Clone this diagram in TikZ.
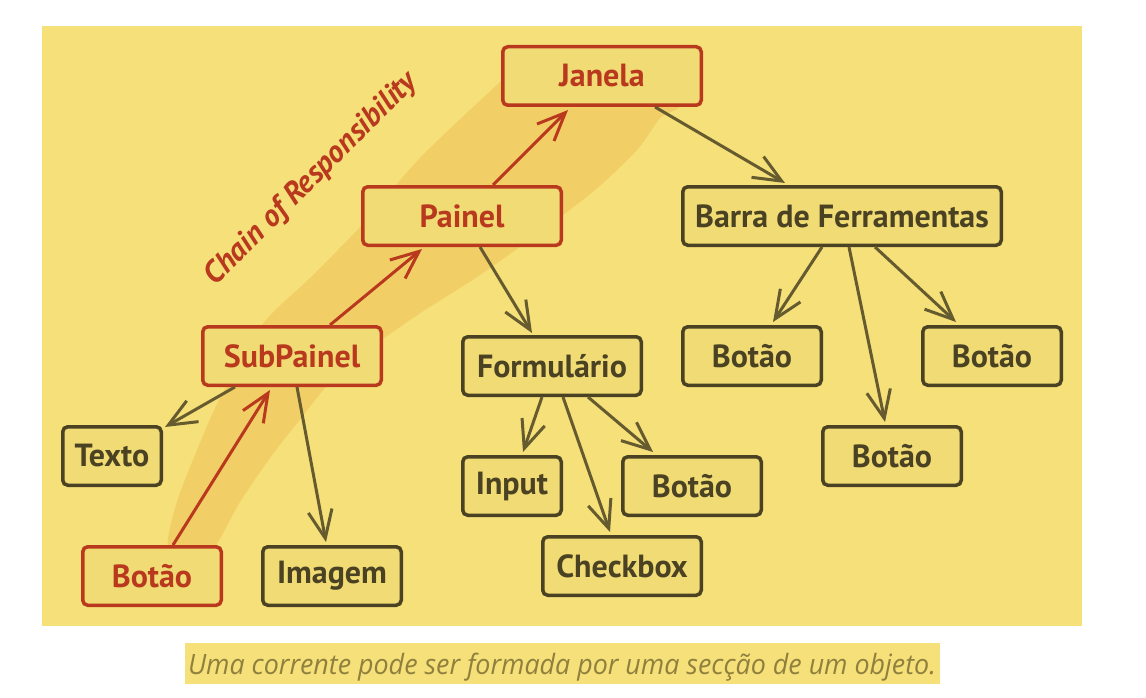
\documentclass[tikz,border=0pt]{standalone}
\usepackage{fontspec}
\setmainfont{PT Sans}
\newfontfamily\capfont{Open Sans}
\usetikzlibrary{arrows.meta,calc}
\definecolor{bg}{HTML}{F6E07A}
\definecolor{nodefill}{HTML}{F0DB74}
\definecolor{band}{HTML}{F2CE66}
\definecolor{redc}{HTML}{B8391E}
\definecolor{darkc}{HTML}{4A4222}
\definecolor{arrc}{HTML}{655B2F}
\definecolor{capc}{HTML}{8F803D}
\tikzset{
  box/.style={draw=darkc, text=darkc, fill=nodefill, line width=3.5pt, rounded corners=5pt,
    minimum height=58.5pt, inner sep=0pt, font=\fontsize{32}{36}\selectfont\bfseries},
  redbox/.style={box, draw=redc, text=redc},
  arr/.style={draw=arrc, line width=3pt, -{Straight Barb[length=28pt,width=24pt]}},
  redarr/.style={arr, draw=redc},
}
\begin{document}
\begin{tikzpicture}[x=1pt,y=-1pt]
\useasboundingbox (0,0) rectangle (1146,698);
\fill[bg] (42,26) rectangle (1082,626);
\fill[band] plot[smooth cycle] coordinates {
  (168,548) (176,505) (195,455) (220,398) (262,325) (310,278) (362,225) (420,158) (500,82) (530,55)
  (600,50) (680,100) (660,118) (637,150) (595,190) (540,232) (480,275) (410,320) (340,372)
  (298,422) (270,458) (240,502) (214,548) (190,565)};
\node[rotate=45, anchor=base, text=redc, font=\fontsize{31}{36}\selectfont\bfseries\itshape] (chain) at (317,185) {Chain of Responsibility};
% nodes
\node[redbox, minimum width=198.5pt] (janela) at (602,76) {Janela};
\node[redbox, minimum width=198.5pt] (painel) at (462,216) {Painel};
\node[redbox, minimum width=178.5pt] (sub) at (292,356) {SubPainel};
\node[box, minimum width=98.5pt] (texto) at (112,456) {Texto};
\node[redbox, minimum width=138.5pt] (bred) at (152,576) {Botão};
\node[box, minimum width=138.5pt] (imagem) at (332,576) {Imagem};
\node[box, minimum width=178.5pt] (form) at (552,366) {Formulário};
\node[box, minimum width=98.5pt] (input) at (512,486) {Input};
\node[box, minimum width=138.5pt] (bform) at (692,486) {Botão};
\node[box, minimum width=158.5pt] (check) at (622,566) {Checkbox};
\node[box, minimum width=318.5pt] (barra) at (842,216) {Barra de Ferramentas};
\node[box, minimum width=138.5pt] (b1) at (752,356) {Botão};
\node[box, minimum width=138.5pt] (b3) at (992,356) {Botão};
\node[box, minimum width=138.5pt] (b2) at (892,456) {Botão};
% arrows
\draw[redarr] ([xshift=21pt]bred.north) -- ([xshift=-22pt,yshift=-3pt]sub.south);
\draw[redarr] ([xshift=38pt]sub.north) -- ([xshift=-40pt,yshift=-2pt]painel.south);
\draw[redarr] ([xshift=31pt]painel.north) -- ([xshift=-34pt,yshift=-3pt]janela.south);
\draw[arr] ([xshift=53pt]janela.south) -- ([xshift=-57pt,yshift=2pt]barra.north);
\draw[arr] ([xshift=18pt]painel.south) -- ([xshift=-20pt,yshift=2pt]form.north);
\draw[arr] ([xshift=-57pt]sub.south) -- ([xshift=2pt,yshift=-2pt]texto.north east);
\draw[arr] ([xshift=5pt]sub.south) -- ([xshift=-6pt,yshift=3pt]imagem.north);
\draw[arr] ([xshift=-10pt]form.south) -- ([xshift=11pt,yshift=3pt]input.north);
\draw[arr] ([xshift=11pt]form.south) -- ([xshift=-12pt,yshift=3pt]check.north);
\draw[arr] ([xshift=36pt]form.south) -- ([xshift=-39pt,yshift=3pt]bform.north);
\draw[arr] ([xshift=-20pt]barra.south) -- ([xshift=21pt,yshift=3pt]b1.north);
\draw[arr] ([xshift=7pt]barra.south) -- ([xshift=-7pt,yshift=3pt]b2.north);
\draw[arr] ([xshift=33pt]barra.south) -- ([xshift=-36pt,yshift=3pt]b3.north);
% caption
\fill[bg] (185,643) rectangle (940,684);
\node[anchor=base, inner sep=0pt, text=capc] (caption) at (562,674) {\resizebox{748pt}{\height}{\capfont\fontsize{28}{32}\selectfont\itshape Uma corrente pode ser formada por uma secção de um objeto.}};
\end{tikzpicture}
\end{document}
